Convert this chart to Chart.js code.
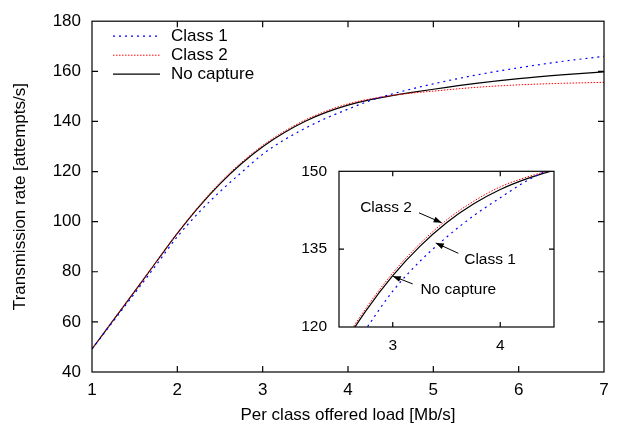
<!DOCTYPE html>
<html>
<head>
<meta charset="utf-8">
<script src="https://cdn.jsdelivr.net/npm/chart.js@4.4.0/dist/chart.umd.min.js"></script>
<style>
  body { margin: 0; background: #fff; }
  #wrap { position: relative; width: 618px; height: 430px; }
  #main { position: absolute; left: 0; top: 0; }
  #inset { position: absolute; left: 300px; top: 150px; background: #fff; }
</style>
</head>
<body>
<div id="wrap">
  <canvas id="main" width="618" height="430"></canvas>
  <canvas id="inset" width="262" height="210"></canvas>
</div>
<script>
// offered load per class (Mb/s) and transmission rates (attempts/s)
const load = [1, 1.25, 1.5, 1.75, 2, 2.25, 2.5, 2.75, 3, 3.25, 3.5, 3.75, 4, 4.25, 4.5, 4.75, 5, 5.5, 6, 6.5, 7];
const class1 = [49.2, 60.3, 71.4, 82.6, 94.0, 103.6, 112.0, 119.6, 126.9, 132.6, 137.3, 141.4, 144.9, 148.2, 150.8, 153.0, 155.0, 158.5, 161.4, 163.9, 166.0];
const class2 = [49.2, 60.8, 72.3, 83.9, 95.5, 106.1, 115.6, 123.6, 130.4, 136.0, 140.6, 144.2, 147.0, 148.9, 150.3, 151.3, 152.1, 153.6, 154.6, 155.2, 155.6];
const noCapture = [49.2, 60.7, 72.2, 83.8, 95.3, 105.8, 115.1, 123.1, 129.9, 135.5, 140.1, 143.7, 146.5, 148.6, 150.2, 151.6, 152.85, 155.15, 157.05, 158.55, 159.8];
const seriesNames = ["Class 1", "Class 2", "No capture"];

const mainXTicks = [1, 2, 3, 4, 5, 6, 7];
const mainYTicks = [40, 60, 80, 100, 120, 140, 160, 180];
const insetXTicks = [3, 4];
const insetYTicks = [120, 135, 150];

// arrows in the zoomed box, in its data units
const insetNotes = [
  { text: "Class 2", at: [2.937, 142.9], from: [3.244, 142.0], to: [3.455, 140.1] },
  { text: "Class 1", at: [3.905, 133.0], from: [3.61, 134.2], to: [3.40, 136.2] },
  { text: "No capture", at: [3.61, 127.2], from: [3.186, 128.3], to: [3.0, 129.8] },
];

const FONT = "'Liberation Sans', Arial, Helvetica, sans-serif";
Chart.defaults.color = "#000";
Chart.defaults.font.family = FONT;

function makeDatasets() {
  const styles = [
    { borderColor: "#0000ff", borderDash: [2, 4], borderWidth: 1.2 },
    { borderColor: "#ff0000", borderDash: [1.5, 1.5], borderWidth: 1 },
    { borderColor: "#000000", borderDash: [], borderWidth: 1.2 },
  ];
  return [class1, class2, noCapture].map((vals, i) => ({
    label: seriesNames[i],
    data: load.map((x, j) => ({ x: x, y: vals[j] })),
    borderColor: styles[i].borderColor,
    borderDash: styles[i].borderDash,
    borderWidth: styles[i].borderWidth,
    pointRadius: 0,
    fill: false,
    cubicInterpolationMode: "monotone",
  }));
}

// box around the plot plus inward ticks on all four sides
const framePlugin = {
  id: "frame",
  afterDatasetsDraw(chart, args, opts) {
    const { ctx, chartArea: a, scales } = chart;
    const len = opts.tickLen || 6;
    ctx.save();
    ctx.setLineDash([]);
    ctx.strokeStyle = "#000";
    ctx.lineWidth = 1.2;
    ctx.strokeRect(a.left, a.top, a.right - a.left, a.bottom - a.top);
    ctx.beginPath();
    scales.x.ticks.forEach((t) => {
      const px = scales.x.getPixelForValue(t.value);
      if (px <= a.left + 1 || px >= a.right - 1) return;
      ctx.moveTo(px, a.bottom); ctx.lineTo(px, a.bottom - len);
      ctx.moveTo(px, a.top); ctx.lineTo(px, a.top + len);
    });
    scales.y.ticks.forEach((t) => {
      const py = scales.y.getPixelForValue(t.value);
      if (py <= a.top + 1 || py >= a.bottom - 1) return;
      ctx.moveTo(a.left, py); ctx.lineTo(a.left + len, py);
      ctx.moveTo(a.right, py); ctx.lineTo(a.right - len, py);
    });
    ctx.stroke();
    ctx.restore();
  },
};

// gnuplot-like key in the top-left corner of the main plot
const keyPlugin = {
  id: "key",
  afterDatasetsDraw(chart) {
    const { ctx, chartArea: a } = chart;
    ctx.save();
    ctx.font = "17px " + FONT;
    ctx.textBaseline = "middle";
    ctx.textAlign = "left";
    chart.data.datasets.forEach((ds, i) => {
      const y = a.top + 15 + i * 19;
      ctx.strokeStyle = ds.borderColor;
      ctx.lineWidth = ds.borderWidth;
      ctx.setLineDash(ds.borderDash || []);
      ctx.beginPath();
      ctx.moveTo(a.left + 21, y);
      ctx.lineTo(a.left + 68, y);
      ctx.stroke();
      ctx.fillStyle = "#000";
      ctx.fillText(ds.label, a.left + 79, y);
    });
    ctx.restore();
  },
};

// labels with arrows inside the zoomed box
const notesPlugin = {
  id: "notes",
  afterDatasetsDraw(chart) {
    const { ctx, scales } = chart;
    const X = (v) => scales.x.getPixelForValue(v);
    const Y = (v) => scales.y.getPixelForValue(v);
    ctx.save();
    ctx.setLineDash([]);
    ctx.font = "15.5px " + FONT;
    ctx.textAlign = "center";
    ctx.textBaseline = "middle";
    ctx.fillStyle = "#000";
    ctx.strokeStyle = "#000";
    ctx.lineWidth = 1;
    insetNotes.forEach((n) => {
      ctx.fillText(n.text, X(n.at[0]), Y(n.at[1]));
      const x0 = X(n.from[0]), y0 = Y(n.from[1]);
      const x1 = X(n.to[0]), y1 = Y(n.to[1]);
      const ang = Math.atan2(y1 - y0, x1 - x0);
      ctx.beginPath();
      ctx.moveTo(x0, y0);
      ctx.lineTo(x1, y1);
      ctx.stroke();
      ctx.beginPath();
      ctx.moveTo(x1, y1);
      ctx.lineTo(x1 - 8 * Math.cos(ang) + 3 * Math.sin(ang), y1 - 8 * Math.sin(ang) - 3 * Math.cos(ang));
      ctx.lineTo(x1 - 8 * Math.cos(ang) - 3 * Math.sin(ang), y1 - 8 * Math.sin(ang) + 3 * Math.cos(ang));
      ctx.closePath();
      ctx.fill();
    });
    ctx.restore();
  },
};

function setTicks(values) {
  return (scale) => { scale.ticks = values.map((v) => ({ value: v })); };
}

// main chart
new Chart(document.getElementById("main"), {
  type: "line",
  data: { datasets: makeDatasets() },
  plugins: [framePlugin, keyPlugin],
  options: {
    responsive: false,
    animation: false,
    layout: { padding: { top: 9, right: 14, bottom: 0, left: 0 } },
    plugins: { legend: { display: false }, tooltip: { enabled: false }, frame: { tickLen: 6 } },
    scales: {
      x: {
        type: "linear", min: 1, max: 7,
        afterBuildTicks: setTicks(mainXTicks),
        afterFit: (s) => { s.height = 58; },
        grid: { display: false, drawTicks: false },
        border: { display: false },
        ticks: { padding: 8, font: { size: 17 } },
        title: { display: true, text: "Per class offered load [Mb/s]", font: { size: 17 }, padding: { top: 0, bottom: 4 } },
      },
      y: {
        type: "linear", min: 40, max: 180,
        afterBuildTicks: setTicks(mainYTicks),
        afterFit: (s) => { s.width = 92; },
        grid: { display: false, drawTicks: false },
        border: { display: false },
        ticks: { padding: 11, font: { size: 17 } },
        title: { display: true, text: "Transmission rate [attempts/s]", font: { size: 17 }, padding: { top: 10, bottom: 0 } },
      },
    },
  },
});

// zoomed inset
new Chart(document.getElementById("inset"), {
  type: "line",
  data: { datasets: makeDatasets() },
  plugins: [framePlugin, notesPlugin],
  options: {
    responsive: false,
    animation: false,
    layout: { padding: { top: 13, right: 8, bottom: 0, left: 0 } },
    plugins: { legend: { display: false }, tooltip: { enabled: false }, frame: { tickLen: 5 } },
    scales: {
      x: {
        type: "linear", min: 2.5, max: 4.5,
        afterBuildTicks: setTicks(insetXTicks),
        afterFit: (s) => { s.height = 33; },
        grid: { display: false, drawTicks: false },
        border: { display: false },
        ticks: { padding: 9, font: { size: 15.5 } },
      },
      y: {
        type: "linear", min: 120, max: 150,
        afterBuildTicks: setTicks(insetYTicks),
        afterFit: (s) => { s.width = 39; },
        grid: { display: false, drawTicks: false },
        border: { display: false },
        ticks: { padding: 12, font: { size: 15.5 } },
      },
    },
  },
});
</script>
</body>
</html>
